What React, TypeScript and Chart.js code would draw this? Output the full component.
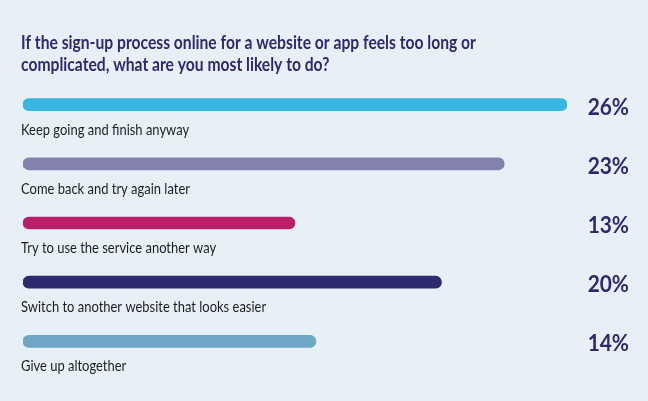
import { useEffect, useRef } from 'react';
import { Chart, registerables, Plugin } from 'chart.js';

Chart.register(...registerables);

const titleLines = [
  'If the sign-up process online for a website or app feels too long or',
  'complicated, what are you most likely to do?',
];
const answers = [
  'Keep going and finish anyway',
  'Come back and try again later',
  'Try to use the service another way',
  'Switch to another website that looks easier',
  'Give up altogether',
];
const shares = [26, 23, 13, 20, 14];
const barColors = ['#36b6e0', '#8381ad', '#b8206a', '#2e2a6e', '#70a6c5'];

const NAVY = '#2c2a6b';
const FONT = 'Lato, "Open Sans", sans-serif';

// the original uses a narrow geometric face, so squeeze Lato a little
function narrowText(ctx: CanvasRenderingContext2D, text: string, x: number, y: number, sx: number) {
  ctx.save();
  ctx.translate(x, y);
  ctx.scale(sx, 1);
  ctx.fillText(text, 0, 0);
  ctx.restore();
}

// draws the title, the answer under each bar and the share at the right
const labelsPlugin: Plugin<'bar'> = {
  id: 'surveyLabels',
  afterDatasetsDraw(chart) {
    const { ctx } = chart;
    const meta = chart.getDatasetMeta(0);
    ctx.save();

    ctx.fillStyle = NAVY;
    ctx.font = `bold 18px ${FONT}`;
    ctx.textAlign = 'left';
    ctx.textBaseline = 'alphabetic';
    titleLines.forEach((line, i) => narrowText(ctx, line, 21, 49 + i * 22, 0.87));

    meta.data.forEach((bar, i) => {
      const y = bar.y;
      ctx.fillStyle = '#1d1d1f';
      ctx.font = `16px ${FONT}`;
      ctx.textAlign = 'left';
      ctx.textBaseline = 'alphabetic';
      narrowText(ctx, answers[i], 21, y + 30, 0.81);

      ctx.fillStyle = NAVY;
      ctx.font = `bold 22px ${FONT}`;
      ctx.textAlign = 'right';
      ctx.textBaseline = 'alphabetic';
      narrowText(ctx, `${shares[i]}%`, 629, y + 10, 0.95);
    });
    ctx.restore();
  },
};

export default function App() {
  const canvasRef = useRef<HTMLCanvasElement>(null);

  useEffect(() => {
    if (!canvasRef.current) return;
    const chart = new Chart(canvasRef.current, {
      type: 'bar',
      data: {
        labels: answers,
        datasets: [
          {
            data: shares,
            backgroundColor: barColors,
            borderRadius: 6,
            borderSkipped: false,
            barThickness: 12,
          },
        ],
      },
      options: {
        indexAxis: 'y',
        animation: false,
        responsive: false,
        layout: { padding: { left: 23, right: 81, top: 75, bottom: 30 } },
        scales: {
          x: { display: false, min: 0, max: 26 },
          y: { display: false },
        },
        plugins: {
          legend: { display: false },
          tooltip: { enabled: false },
        },
      },
      plugins: [labelsPlugin],
    });
    return () => chart.destroy();
  }, []);

  return (
    <div style={{ position: 'absolute', left: 0, top: 0, width: 648, height: 401, background: '#e8f0f7' }}>
      <canvas ref={canvasRef} width={648} height={401} style={{ width: 648, height: 401 }} />
    </div>
  );
}
